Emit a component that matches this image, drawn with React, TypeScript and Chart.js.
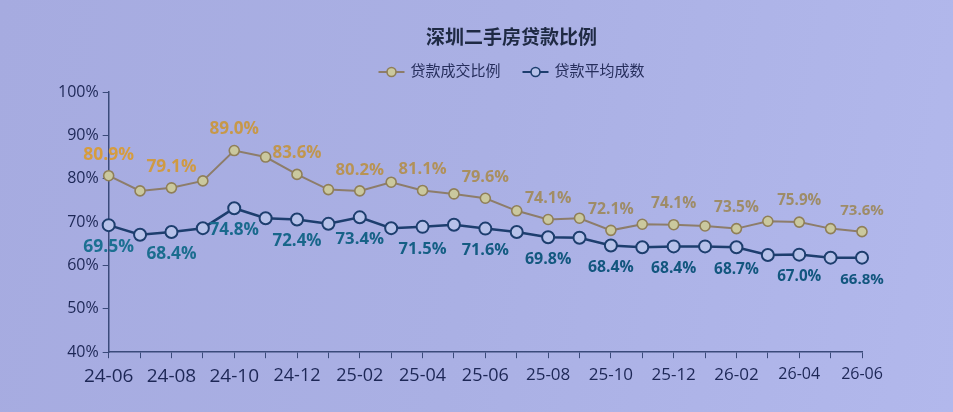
import React, { useEffect, useRef } from 'react';
import { Chart, registerables } from 'chart.js';
Chart.register(...registerables);

// months 24-06 .. 26-06
const months = [
  '24-06', '24-07', '24-08', '24-09', '24-10', '24-11', '24-12',
  '25-01', '25-02', '25-03', '25-04', '25-05', '25-06', '25-07', '25-08',
  '25-09', '25-10', '25-11', '25-12', '26-01', '26-02', '26-03', '26-04',
  '26-05', '26-06',
];

// 贷款成交比例 (point positions as drawn)
const dealRatio = [
  80.7, 77.2, 77.9, 79.5, 86.5, 85.0, 81.0, 77.5, 77.2, 79.2, 77.3, 76.5, 75.5,
  72.6, 70.6, 70.9, 68.1, 69.5, 69.4, 69.1, 68.5, 70.2, 70.0, 68.5, 67.8,
];
// 贷款平均成数
const avgLoan = [
  69.3, 67.1, 67.7, 68.6, 73.2, 70.9, 70.6, 69.6, 71.1, 68.6, 68.9, 69.4, 68.5,
  67.7, 66.5, 66.4, 64.6, 64.2, 64.4, 64.4, 64.2, 62.4, 62.5, 61.8, 61.8,
];

// printed labels, every second month
const dealLabels = [80.9, 79.1, 89.0, 83.6, 80.2, 81.1, 79.6, 74.1, 72.1, 74.1, 73.5, 75.9, 73.6];
const avgLabels = [69.5, 68.4, 74.8, 72.4, 73.4, 71.5, 71.6, 69.8, 68.4, 68.4, 68.7, 67.0, 66.8];

const yTicks = [40, 50, 60, 70, 80, 90, 100];

const TITLE = '深圳二手房贷款比例';
const FONT = '"Open Sans", "Noto Sans CJK SC", sans-serif';
const NAVY = '#1d2756';

const DEAL_LINE = '#8d7d6a';
const DEAL_FILL = '#cac89e';
const DEAL_BORDER = '#8f7f58';
const AVG_LINE = '#1d3e6e';
const AVG_FILL = '#b7c2ea';

function mix(a: number[], b: number[], t: number) {
  const c = a.map((v, i) => Math.round(v + (b[i] - v) * t));
  return `rgb(${c[0]},${c[1]},${c[2]})`;
}

function drawMarker(ctx: CanvasRenderingContext2D, x: number, y: number, line: string, fill: string, border: string) {
  ctx.strokeStyle = line;
  ctx.lineWidth = 2;
  ctx.beginPath();
  ctx.moveTo(x, y);
  ctx.lineTo(x + 26, y);
  ctx.stroke();
  ctx.beginPath();
  ctx.arc(x + 13, y, 4.5, 0, Math.PI * 2);
  ctx.fillStyle = fill;
  ctx.fill();
  ctx.strokeStyle = border;
  ctx.lineWidth = 1.6;
  ctx.stroke();
}

// title + legend, centred a bit right of the plot like the photo
const header = {
  id: 'header',
  afterDraw(chart: Chart) {
    const ctx = chart.ctx;
    const cx = chart.width / 2 + 35;
    ctx.save();
    ctx.textBaseline = 'middle';
    ctx.textAlign = 'center';
    ctx.fillStyle = '#1f2a44';
    ctx.font = `bold 19px ${FONT}`;
    ctx.fillText(TITLE, cx, 39);

    ctx.font = `15px ${FONT}`;
    ctx.textAlign = 'left';
    const items = chart.data.datasets.map((d: any) => ({
      text: d.label as string,
      line: d.borderColor as string,
      fill: d.pointBackgroundColor as string,
      border: d.pointBorderColor as string,
    }));
    const widths = items.map((it) => 32 + ctx.measureText(it.text).width);
    const gap = 22;
    let x = cx - (widths.reduce((s, w) => s + w, 0) + gap * (items.length - 1)) / 2;
    items.forEach((it, i) => {
      drawMarker(ctx, x, 72, it.line, it.fill, it.border);
      ctx.fillStyle = '#262e5c';
      ctx.fillText(it.text, x + 32, 72);
      x += widths[i] + gap;
    });
    ctx.restore();
  },
};

const valueLabels = {
  id: 'valueLabels',
  afterDatasetsDraw(chart: Chart) {
    const ctx = chart.ctx;
    const sets = [
      { idx: 0, values: dealLabels, from: [214, 156, 62], to: [158, 140, 104], dy: -21 },
      { idx: 1, values: avgLabels, from: [28, 112, 146], to: [18, 86, 126], dy: 22 },
    ];
    ctx.save();
    ctx.textAlign = 'center';
    ctx.textBaseline = 'middle';
    sets.forEach((s) => {
      const meta = chart.getDatasetMeta(s.idx);
      s.values.forEach((v, k) => {
        const pt = meta.data[k * 2];
        if (!pt) return;
        const t = k / (s.values.length - 1);
        ctx.font = `bold ${(17.5 - t * 2.5).toFixed(1)}px ${FONT}`;
        ctx.fillStyle = mix(s.from, s.to, Math.min(1, t * 1.6));
        ctx.fillText(v.toFixed(1) + '%', pt.x, pt.y + s.dy);
      });
    });
    ctx.restore();
  },
};

const LoanChart: React.FC = () => {
  const chartRef = useRef<HTMLCanvasElement>(null);
  const chartInstanceRef = useRef<Chart | null>(null);

  useEffect(() => {
    if (!chartRef.current) return;
    const ctx = chartRef.current.getContext('2d');
    if (!ctx) return;

    chartInstanceRef.current = new Chart(ctx, {
      type: 'line',
      data: {
        labels: months,
        datasets: [
          {
            label: '贷款成交比例',
            data: dealRatio,
            borderColor: DEAL_LINE,
            borderWidth: 2,
            pointRadius: 5,
            pointBackgroundColor: DEAL_FILL,
            pointBorderColor: DEAL_BORDER,
            pointBorderWidth: 1.6,
            tension: 0,
          },
          {
            label: '贷款平均成数',
            data: avgLoan,
            borderColor: AVG_LINE,
            borderWidth: 2.5,
            pointRadius: 6,
            pointBackgroundColor: AVG_FILL,
            pointBorderColor: AVG_LINE,
            pointBorderWidth: 2,
            tension: 0,
          },
        ],
      },
      options: {
        animation: false,
        responsive: true,
        maintainAspectRatio: false,
        layout: { padding: { left: 54, right: 91, top: 92, bottom: 17 } },
        plugins: {
          title: { display: false },
          legend: { display: false },
          tooltip: { enabled: false },
        },
        scales: {
          x: {
            offset: false,
            border: { display: true, color: '#3a4a7a', width: 1.5 },
            grid: { drawOnChartArea: false, drawTicks: true, tickLength: 6, color: '#3a4a7a' },
            ticks: {
              autoSkip: false,
              maxRotation: 0,
              color: NAVY,
              padding: 7,
              font: (c: any) => ({ family: FONT, size: Math.round(19 - (c.index / 24) * 3) }),
              callback: (_v: any, i: number) => (i % 2 === 0 ? months[i] : ''),
            },
          },
          y: {
            min: 40,
            max: 100,
            afterBuildTicks: (axis: any) => {
              axis.ticks = yTicks.map((v) => ({ value: v }));
            },
            border: { display: true, color: '#3a4a7a', width: 1.5 },
            grid: { drawOnChartArea: false, drawTicks: true, tickLength: 6, color: '#3a4a7a' },
            ticks: {
              color: NAVY,
              padding: 4,
              font: { family: FONT, size: 16 },
              callback: (v: any) => v + '%',
            },
          },
        },
      },
      plugins: [valueLabels, header],
    });

    return () => {
      if (chartInstanceRef.current) {
        chartInstanceRef.current.destroy();
        chartInstanceRef.current = null;
      }
    };
  }, []);

  return (
    <div
      style={{
        position: 'absolute',
        left: 0,
        top: 0,
        width: 953,
        height: 412,
        background: 'linear-gradient(100deg, #a6abe0 0%, #aab0e4 50%, #b2b8ec 100%)',
      }}
    >
      <canvas ref={chartRef}></canvas>
    </div>
  );
};

export default function App() {
  return <LoanChart />;
}
